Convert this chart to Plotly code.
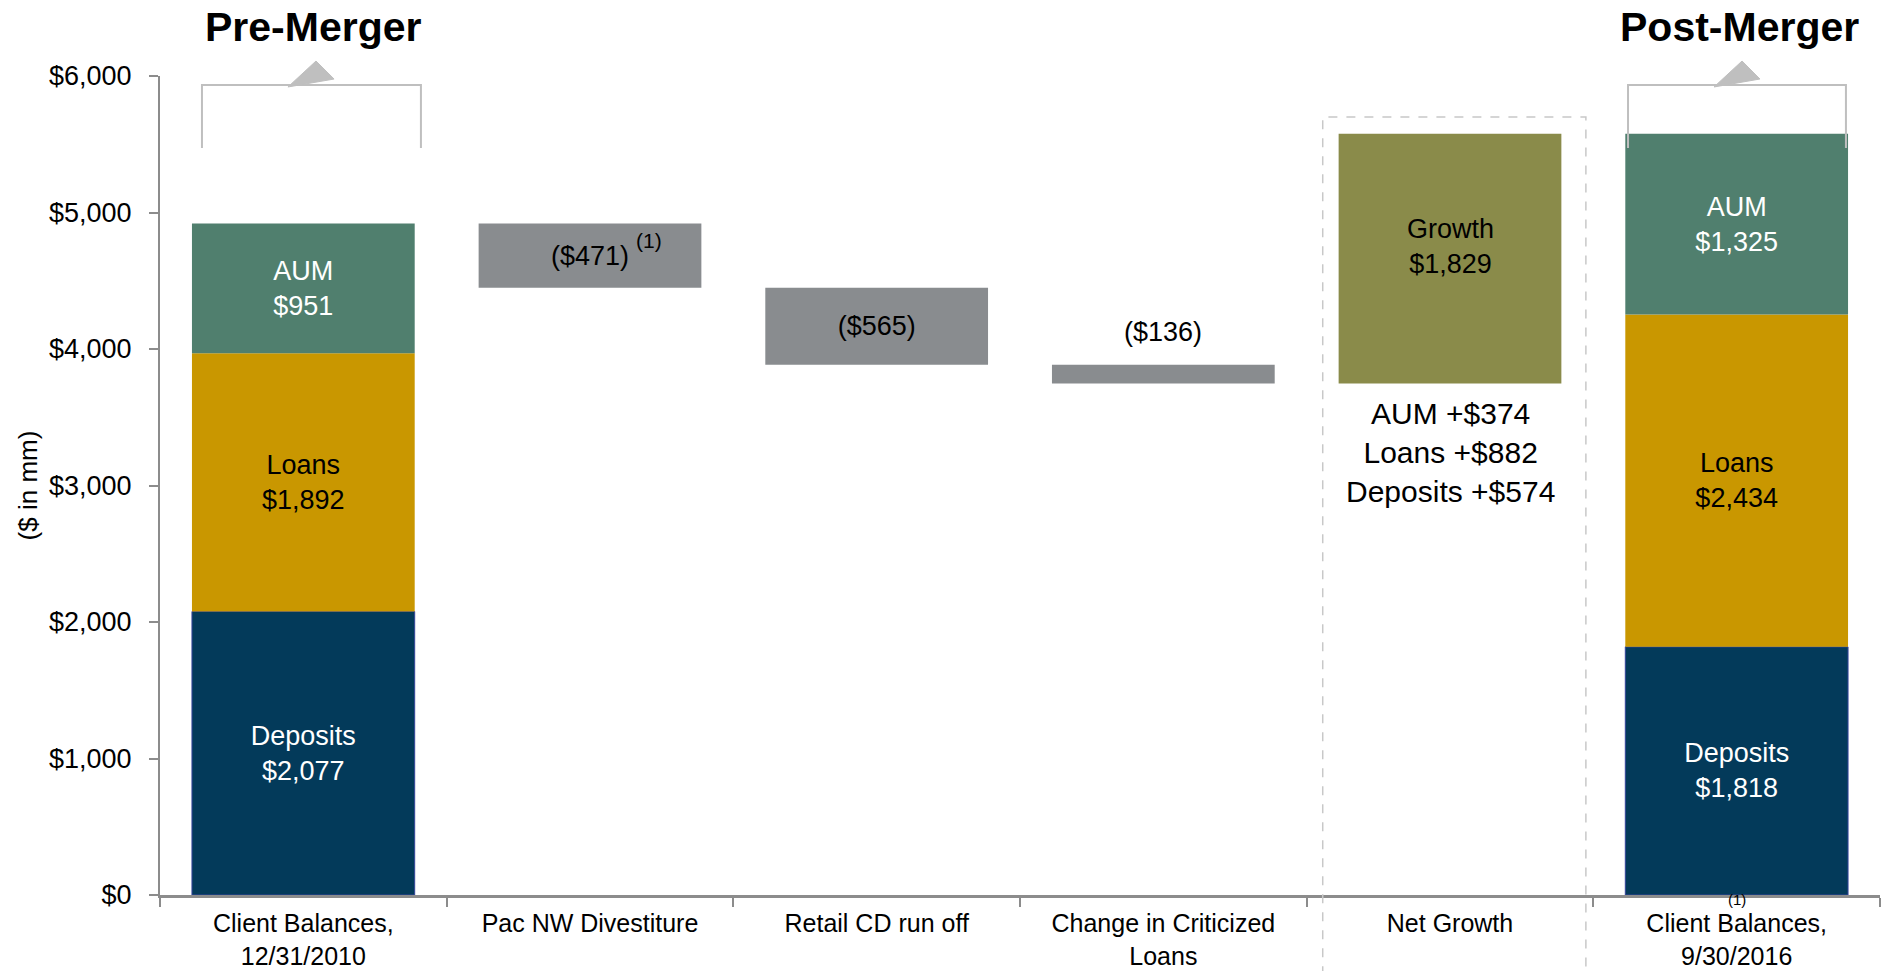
import plotly.graph_objects as go

categories = ["Client Balances,<br>12/31/2010", "Pac NW Divestiture", "Retail CD run off",
              "Change in Criticized<br>Loans", "Net Growth", "Client Balances,<br>9/30/2016"]

# stacked balances (pre = index 0, post = index 5)
pre_deposits, pre_loans, pre_aum = 2077, 1892, 951
post_deposits, post_loans, post_aum = 1818, 2434, 1325

# waterfall changes
changes = [-471, -565, -136]
change_labels = ["($471)", "($565)", "($136)"]
growth = 1829
growth_detail = ["AUM +$374", "Loans +$882", "Deposits +$574"]

y_tickvals = [0, 1000, 2000, 3000, 4000, 5000, 6000]
y_ticktext = ["$0", "$1,000", "$2,000", "$3,000", "$4,000", "$5,000", "$6,000"]

FONT = "Liberation Sans, Arial, sans-serif"
C_DEP, C_LOAN, C_AUM = "#033A5A", "#C99700", "#507F6E"
C_GROW, C_GRAY = "#8A8B4A", "#898C8F"
W = 0.777

fig = go.Figure()

def money(v):
    return "${:,}".format(v)

# stacked bars
x_st = [categories[0], categories[5]]
dep = [pre_deposits, post_deposits]
loans = [pre_loans, post_loans]
aum = [pre_aum, post_aum]
fig.add_trace(go.Bar(x=x_st, y=dep, base=[0, 0], width=W,
                     marker=dict(color=C_DEP, line=dict(color="#34449A", width=1)),
                     text=["Deposits<br>" + money(v) for v in dep],
                     textfont=dict(color="white", size=27, family=FONT)))
fig.add_trace(go.Bar(x=x_st, y=loans, base=dep, width=W,
                     marker=dict(color=C_LOAN, line=dict(width=0)),
                     text=["Loans<br>" + money(v) for v in loans],
                     textfont=dict(color="black", size=27, family=FONT)))
fig.add_trace(go.Bar(x=x_st, y=aum, base=[d + l for d, l in zip(dep, loans)], width=W,
                     marker=dict(color=C_AUM, line=dict(width=0)),
                     text=["AUM<br>" + money(v) for v in aum],
                     textfont=dict(color="white", size=27, family=FONT)))

# waterfall decreases
level = pre_deposits + pre_loans + pre_aum
bases, heights = [], []
for c in changes:
    bases.append(level + c)
    heights.append(-c)
    level += c
fig.add_trace(go.Bar(x=categories[1:4], y=heights, base=bases, width=W,
                     marker=dict(color=C_GRAY, line=dict(width=0)),
                     text=[change_labels[0], change_labels[1], ""],
                     textfont=dict(color="black", size=27, family=FONT)))

# growth
fig.add_trace(go.Bar(x=[categories[4]], y=[growth], base=[level], width=W,
                     marker=dict(color=C_GROW, line=dict(width=0)), text=[""]))

fig.update_traces(textposition="inside", insidetextanchor="middle", textangle=0,
                  constraintext="none", hoverinfo="skip", showlegend=False)

annotations = []
# ($136) above its bar
annotations.append(dict(x=categories[3], y=bases[2] + heights[2], yanchor="bottom", yshift=16,
                        text=change_labels[2], showarrow=False,
                        font=dict(size=27, color="black", family=FONT)))
# footnote markers
annotations.append(dict(x=categories[1], y=bases[0] + heights[0], yanchor="top", xshift=59, yshift=-4,
                        text="(1)", showarrow=False, font=dict(size=21, color="black", family=FONT)))
annotations.append(dict(x=categories[5], y=0, yanchor="top", yshift=6,
                        text="(1)", showarrow=False, font=dict(size=15, color="black", family=FONT)))
# growth labels
annotations.append(dict(x=categories[4], y=level + growth * 0.55, text="Growth<br>" + money(growth),
                        showarrow=False, font=dict(size=27, color="black", family=FONT)))
annotations.append(dict(x=categories[4], y=level, yanchor="top", yshift=-12,
                        text="<br>".join(growth_detail), showarrow=False,
                        font=dict(size=30, color="black", family=FONT)))
# section titles
annotations.append(dict(xref="paper", yref="paper", x=0.0892, y=1.0, xanchor="center",
                        yanchor="bottom", yshift=24,
                        text="<b>Pre-Merger</b>", showarrow=False,
                        font=dict(size=41, color="black", family=FONT)))
annotations.append(dict(xref="paper", yref="paper", x=0.9186, y=1.0, xanchor="center",
                        yanchor="bottom", yshift=24,
                        text="<b>Post-Merger</b>", showarrow=False,
                        font=dict(size=41, color="black", family=FONT)))

BR = "#BFBFBF"
shapes = []
for x0, x1, tri in [(0.0244, 0.1517, [(0.0744, 0.9866), (0.0907, 1.0183), (0.1012, 0.9963)]),
                    (0.8535, 0.9802, [(0.9035, 0.9866), (0.9198, 1.0183), (0.9302, 0.9963)])]:
    shapes.append(dict(type="path", xref="paper", yref="paper",
                       path=f"M{x0},0.912 L{x0},0.989 L{x1},0.989 L{x1},0.912",
                       line=dict(color=BR, width=2)))
    shapes.append(dict(type="path", xref="paper", yref="paper",
                       path="M{},{} L{},{} L{},{} Z".format(*tri[0], *tri[1], *tri[2]),
                       fillcolor=BR, line=dict(color=BR, width=1)))
# dashed box around net growth
shapes.append(dict(type="path", xref="paper", yref="paper",
                   path="M0.676,-0.12 L0.676,0.95 L0.829,0.95 L0.829,-0.12",
                   line=dict(color="#C8C8C8", width=1.5, dash="dash")))

fig.update_layout(
    width=1886, height=971,
    margin=dict(l=160, r=6, t=76, b=76),
    paper_bgcolor="white", plot_bgcolor="white",
    barmode="overlay",
    font=dict(family=FONT, size=27, color="black"),
    annotations=annotations, shapes=shapes,
    xaxis=dict(type="category", categoryorder="array", categoryarray=categories,
               range=[-0.5, 5.5], showline=True, linecolor="#8C8C8C", linewidth=3,
               ticks="outside", tickson="boundaries", ticklen=9, tickwidth=2, tickcolor="#8C8C8C",
               tickfont=dict(size=25, family=FONT, color="black"), showgrid=False, zeroline=False,
               ticklabelstandoff=4, automargin=False),
    yaxis=dict(range=[0, 6000], tickmode="array", tickvals=y_tickvals, ticktext=y_ticktext,
               showline=True, linecolor="#8C8C8C", linewidth=2,
               ticks="outside", ticklen=9, tickwidth=2, tickcolor="#8C8C8C",
               tickfont=dict(size=27, family=FONT, color="black"), showgrid=False, zeroline=False,
               ticklabelstandoff=12, automargin=False,
               title=dict(text="($ in mm)", standoff=4, font=dict(size=26, family=FONT, color="black"))),
)

fig.write_html("out.html")
